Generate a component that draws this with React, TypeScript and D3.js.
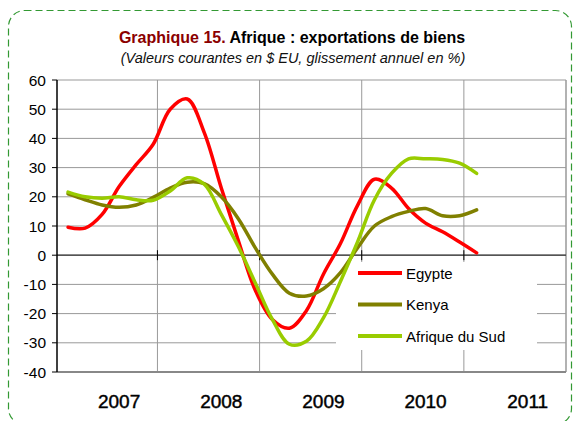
import React from 'react';
import * as d3 from 'd3';

const width = 573;
const height = 421;
const plot = { left: 57, right: 566, top: 80, bottom: 372 };

// sample positions (month index, 0 = first observation)
const months = [0, 2, 4, 6, 8, 10, 12, 14, 16, 18, 20, 22, 24, 26, 28, 30, 32, 34, 36, 38, 40, 42, 44, 46, 48];
const egypte = [9.6, 9.3, 14, 23.5, 31, 38, 50, 53.5, 42, 23, 5, -12, -22, -25, -19, -6.5, 4, 17, 26, 23, 16, 11, 8, 4.5, 0.8];
const kenya = [21, 19, 17.2, 16.4, 17.2, 19.8, 23, 25, 24.5, 20, 12.5, 2.5, -6.5, -13, -14, -11.5, -6, 2.5, 10, 13.2, 15, 16, 13.5, 13.5, 15.5];
const afriqueSud = [21.6, 20, 19.5, 20, 19, 18.8, 22, 26.5, 24.3, 14, 3, -9.5, -22, -30.5, -29.5, -21.5, -9, 4.5, 19, 28, 33, 33, 32.8, 31.5, 28];

const yTicks = [60, 50, 40, 30, 20, 10, 0, -10, -20, -30, -40];
const yearLabels = ['2007', '2008', '2009', '2010', '2011'];
const yearPos = [6, 18, 30, 42, 54];
const yearBounds = [10.5, 22.5, 34.5, 46.5];

const series = [
  { name: 'Egypte', values: egypte, color: '#ff0000' },
  { name: 'Kenya', values: kenya, color: '#808000' },
  { name: 'Afrique du Sud', values: afriqueSud, color: '#99cc00' },
];

const x = d3.scaleLinear().domain([-1.3, 58.5]).range([plot.left, plot.right]);
const y = d3.scaleLinear().domain([-40, 60]).range([plot.bottom, plot.top]);

const line = d3.line<number>()
  .x((d, i) => x(months[i]))
  .y(d => y(d))
  .curve(d3.curveCatmullRom.alpha(0.5));

const legend = { x: 336, y: 262, w: 201, h: 88 };

export default function App() {
  return (
    <svg width={width} height={height} style={{ position: 'absolute', left: 0, top: 0 }} fontFamily="Arial, 'Liberation Sans', sans-serif">
      <rect x={0} y={0} width={width} height={height} fill="#fff" />
      <rect x={8.5} y={10.5} width={563} height={414} rx={16} fill="none" stroke="#339933" strokeWidth={1.2} strokeDasharray="7,4" />

      <text x={292} y={43} textAnchor="middle" fontSize={16} fontWeight="bold">
        <tspan fill="#8b0000">Graphique 15.</tspan>
        <tspan fill="#000"> Afrique : exportations de biens</tspan>
      </text>
      <text x={293} y={63} textAnchor="middle" fontSize={14.5} fontStyle="italic" fill="#111">
        (Valeurs courantes en $ EU, glissement annuel en %)
      </text>

      {/* grid */}
      {yTicks.map(t => (
        <line key={t} x1={plot.left} x2={plot.right} y1={y(t)} y2={y(t)} stroke="#999" strokeWidth={1} />
      ))}
      {yearBounds.map(b => (
        <line key={b} x1={x(b)} x2={x(b)} y1={plot.top} y2={plot.bottom} stroke="#999" strokeWidth={1} />
      ))}
      <line x1={plot.right} x2={plot.right} y1={plot.top} y2={plot.bottom} stroke="#999" strokeWidth={1.5} />
      <line x1={plot.left} x2={plot.right} y1={plot.bottom} y2={plot.bottom} stroke="#888" strokeWidth={2} />

      {/* legend background */}
      <rect x={legend.x} y={legend.y} width={legend.w} height={legend.h} fill="#fff" />

      {/* zero axis */}
      <line x1={plot.left} x2={plot.right} y1={y(0)} y2={y(0)} stroke="#333" strokeWidth={1.3} />
      {yearBounds.map(b => (
        <line key={b} x1={x(b)} x2={x(b)} y1={y(0) - 5} y2={y(0) + 5} stroke="#000" strokeWidth={1} />
      ))}

      {/* y axis */}
      <line x1={plot.left} x2={plot.left} y1={plot.top} y2={plot.bottom} stroke="#000" strokeWidth={1.5} />
      {yTicks.map(t => (
        <g key={t}>
          <line x1={plot.left - 5} x2={plot.left} y1={y(t)} y2={y(t)} stroke="#000" strokeWidth={1} />
          <text x={46} y={y(t) + 5.5} textAnchor="end" fontSize={15.5} fill="#000">{t}</text>
        </g>
      ))}

      {yearLabels.map((l, i) => (
        <text key={l} x={x(yearPos[i])} y={408} textAnchor="middle" fontSize={19}
          fontFamily="'Liberation Sans Narrow', 'Arial Narrow', sans-serif" fill="#000"
          stroke="#000" strokeWidth={0.45}>{l}</text>
      ))}

      {series.map(s => (
        <path key={s.name} d={line(s.values) || ''} fill="none" stroke={s.color} strokeWidth={3.5} strokeLinecap="round" strokeLinejoin="round" />
      ))}

      {series.map((s, i) => {
        const ly = 273 + i * 31.5;
        return (
          <g key={s.name}>
            <line x1={358} x2={402} y1={ly} y2={ly} stroke={s.color} strokeWidth={4} />
            <text x={406} y={ly + 5.5} fontSize={15} fill="#000">{s.name}</text>
          </g>
        );
      })}
    </svg>
  );
}
